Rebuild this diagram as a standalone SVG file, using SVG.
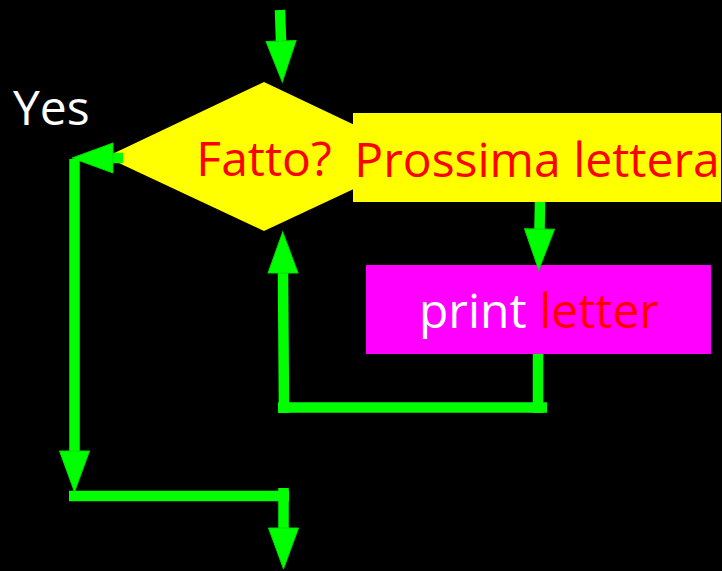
<svg xmlns="http://www.w3.org/2000/svg" width="722" height="571" viewBox="0 0 722 571">
  <style>
    .ln { stroke: #00ff00; stroke-width: 10.5; fill: none; stroke-linecap: butt; }
    .ah { fill: #00ff00; stroke: #00dd00; stroke-width: 1; }
    .t { font-family: "Open Sans", "Liberation Sans", sans-serif; font-size: 48px; }
    .red { fill: #ff0000; }
    .white { fill: #ffffff; }
  </style>
  <defs>
    <marker id="arr" markerUnits="userSpaceOnUse" markerWidth="42" markerHeight="32" refX="0" refY="15" orient="auto" overflow="visible">
      <path class="ah" d="M0,0 L41,15 L0,30 Z"/>
    </marker>
  </defs>
  <rect x="0" y="0" width="722" height="571" fill="#000000"/>

  <g id="decision">
    <polygon points="264,82 422,157 264,231 106,157" fill="#ffff00"/>
    <text class="t red" x="264" y="176" text-anchor="middle">Fatto?</text>
  </g>
  <g id="next-letter">
    <rect x="353" y="113" width="368" height="89" fill="#ffff00"/>
    <text class="t red" x="537" y="177" text-anchor="middle">Prossima lettera</text>
  </g>
  <g id="print-letter">
    <rect x="366" y="265" width="345" height="89" fill="#ff00ff"/>
    <text class="t" x="539" y="328" text-anchor="middle"><tspan class="white">print </tspan><tspan class="red">letter</tspan></text>
  </g>
  <g id="yes-label">
    <text class="t white" x="13" y="125">Yes</text>
  </g>

  <g id="connectors">
    <path class="ln" d="M280,10 L281,41" marker-end="url(#arr)"/>
    <path class="ln" d="M123,158 L113,158" marker-end="url(#arr)"/>
    <path class="ln" d="M74.5,159 L74.5,451" marker-end="url(#arr)"/>
    <path class="ln" d="M69,496 L289,496"/>
    <path class="ln" d="M283.5,488 L283.5,528" marker-end="url(#arr)"/>
    <path class="ln" d="M538,354 L538,413"/>
    <path class="ln" d="M278,407.5 L547,407.5"/>
    <path class="ln" d="M284,413 L283,273" marker-end="url(#arr)"/>
    <path class="ln" d="M540,202 L539.5,229" marker-end="url(#arr)"/>
  </g>
</svg>
